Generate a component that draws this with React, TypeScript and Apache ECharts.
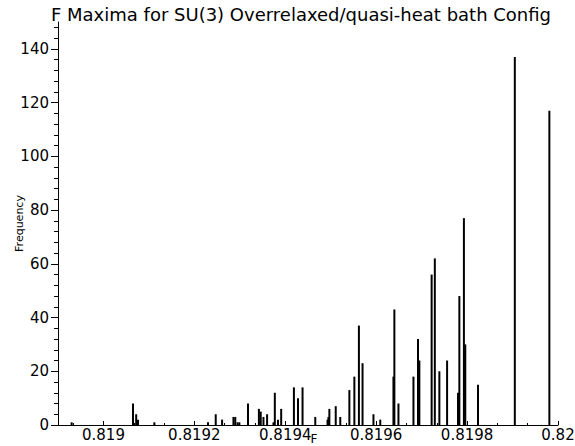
import React, { useEffect, useRef } from "react";
import * as echarts from "echarts";

// F value (bin position) of each bar
const fValues = [
  0.81893, 0.819065, 0.819072, 0.819076, 0.819112, 0.81923, 0.819247, 0.819261,
  0.819286, 0.81929, 0.819295, 0.819299, 0.819318, 0.819342, 0.819346, 0.819352,
  0.81936, 0.819374, 0.819377, 0.819384, 0.819391, 0.819419, 0.819428, 0.819438,
  0.819466, 0.819493, 0.819495, 0.819497, 0.819511, 0.819521, 0.819541, 0.819552,
  0.819562, 0.81957, 0.819594, 0.819609, 0.819638, 0.81964, 0.819649, 0.819682,
  0.819692, 0.819695, 0.819722, 0.819729, 0.819739, 0.819756, 0.81978, 0.819783,
  0.819793, 0.819796, 0.819824, 0.819905, 0.819981,
];
// Frequency of each bar
const frequencies = [
  1, 8, 4, 2, 1, 1, 4, 2,
  3, 3, 1, 1, 8, 6, 5, 3,
  4, 1, 12, 2, 6, 14, 10, 14,
  3, 2, 3, 6, 7, 3, 13, 18,
  37, 23, 4, 2, 18, 43, 8, 18,
  32, 24, 56, 62, 20, 24, 12, 48,
  77, 30, 15, 137, 117,
];

const xTickLabels = [0.819, 0.8192, 0.8194, 0.8196, 0.8198, 0.82];
const yTickLabels = [0, 20, 40, 60, 80, 100, 120, 140];

const titleText = "F Maxima for SU(3) Overrelaxed/quasi-heat bath Config";
const xName = "F";
const yName = "Frequency";

const FONT = "DejaVu Sans";

export default function App() {
  const ref = useRef<HTMLDivElement>(null);

  useEffect(() => {
    if (!ref.current) return;
    const chart = echarts.init(ref.current, null, { renderer: "svg" });

    const xMin = 0.8189;
    const xMax = 0.82;
    const xMinor: number[] = [];
    for (let k = -2; k <= 16; k++) {
      if (k % 3 === 0) continue;
      const v = +(0.819 + (k * 0.0002) / 3).toFixed(8);
      if (v >= xMin && v <= xMax) xMinor.push(v);
    }
    const yMinor: number[] = [];
    for (let v = 4; v < 150; v += 4) if (v % 20 !== 0) yMinor.push(v);

    const axisLineStyle = { color: "#000", width: 1 };

    chart.setOption({
      animation: false,
      backgroundColor: "#fff",
      graphic: [
        {
          type: "text",
          x: 301,
          y: 14,
          style: {
            text: titleText,
            fontFamily: FONT,
            fontSize: 18,
            fill: "#000",
            textAlign: "center",
            textVerticalAlign: "middle",
          },
        },
      ],
      grid: { left: 58, right: 17, top: 22, bottom: 21, containLabel: false, outerBoundsMode: "none" },
      xAxis: [
        {
          type: "value",
          min: xMin,
          max: xMax,
          name: xName,
          nameLocation: "middle",
          nameGap: 8,
          nameMoveOverlap: false,
          nameTextStyle: { fontFamily: FONT, fontSize: 12, lineHeight: 12, color: "#000", padding: [0, 0, 0, 12] },
          axisLine: { show: true, onZero: false, lineStyle: axisLineStyle },
          axisTick: { show: true, inside: true, length: 4, customValues: xTickLabels, lineStyle: axisLineStyle },
          axisLabel: {
            customValues: xTickLabels,
            margin: 2,
            fontFamily: FONT,
            fontSize: 15,
            lineHeight: 15,
            color: "#000",
            formatter: (v: number) => String(+v.toFixed(6)),
          },
          splitLine: { show: false },
        },
        {
          type: "value",
          min: xMin,
          max: xMax,
          position: "bottom",
          offset: 0,
          axisLine: { show: false },
          axisTick: { show: true, inside: true, length: 2, customValues: xMinor, lineStyle: axisLineStyle },
          axisLabel: { show: false },
          splitLine: { show: false },
        },
      ],
      yAxis: [
        {
          type: "value",
          min: 0,
          max: 150,
          name: yName,
          nameLocation: "middle",
          nameGap: 33,
          nameMoveOverlap: false,
          nameRotate: 90,
          nameTextStyle: { fontFamily: FONT, fontSize: 11, color: "#000" },
          axisLine: { show: true, onZero: false, lineStyle: axisLineStyle },
          axisTick: { show: true, inside: false, length: 7, customValues: yTickLabels, lineStyle: axisLineStyle },
          axisLabel: {
            customValues: yTickLabels,
            margin: 9,
            fontFamily: FONT,
            fontSize: 15,
            color: "#000",
          },
          splitLine: { show: false },
        },
        {
          type: "value",
          min: 0,
          max: 150,
          position: "left",
          offset: 0,
          axisLine: { show: false },
          axisTick: { show: true, inside: false, length: 4, customValues: yMinor, lineStyle: axisLineStyle },
          axisLabel: { show: false },
          splitLine: { show: false },
        },
      ],
      series: [
        {
          type: "bar",
          xAxisIndex: 0,
          yAxisIndex: 0,
          barWidth: 2,
          itemStyle: { color: "#000" },
          data: fValues.map((f, i) => [f, frequencies[i]]),
        },
      ],
    });

    return () => chart.dispose();
  }, []);

  return (
    <div
      ref={ref}
      style={{ position: "fixed", left: 0, top: 0, width: 575, height: 446, background: "#fff" }}
    />
  );
}
